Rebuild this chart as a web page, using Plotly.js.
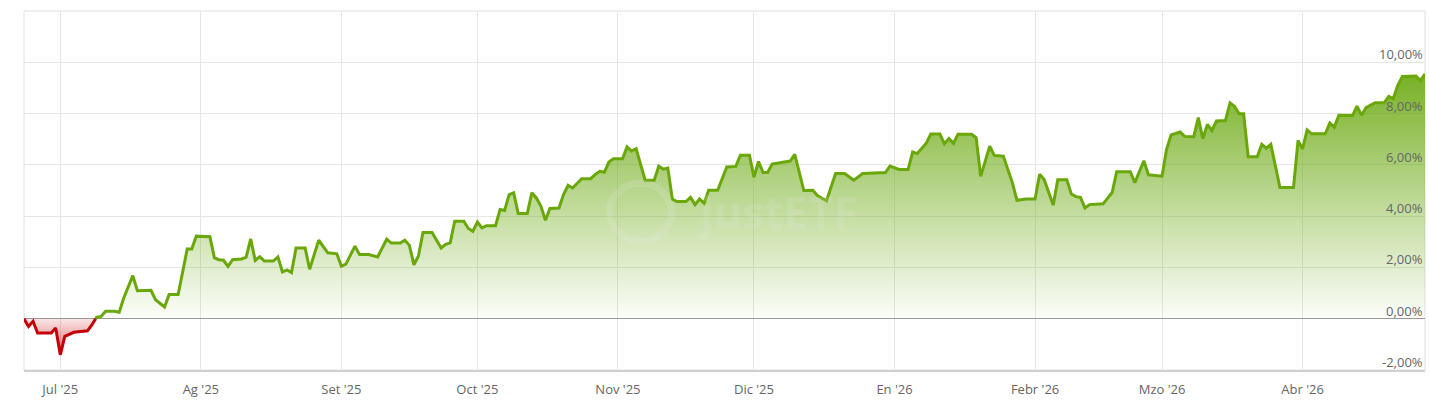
<!DOCTYPE html>
<html>
<head>
<meta charset="utf-8">
<script src="https://cdn.plot.ly/plotly-3.0.1.min.js"></script>
<style>
  html, body { margin: 0; padding: 0; background: #ffffff; }
  #chart { width: 1429px; height: 406px; }
</style>
</head>
<body>
<div id="chart"></div>
<script>
// Performance (%) (vertices of the line)
const dates = [
  "2025-06-23","2025-06-24","2025-06-25","2025-06-26","2025-06-29","2025-06-30",
  "2025-07-01","2025-07-02","2025-07-04","2025-07-06","2025-07-07","2025-07-08",
  "2025-07-09","2025-07-10","2025-07-11","2025-07-13","2025-07-14","2025-07-15",
  "2025-07-17","2025-07-18","2025-07-20","2025-07-21","2025-07-22","2025-07-24",
  "2025-07-25","2025-07-27","2025-07-29","2025-07-30","2025-07-31","2025-08-03",
  "2025-08-04","2025-08-05","2025-08-06","2025-08-07","2025-08-08","2025-08-10",
  "2025-08-11","2025-08-12","2025-08-13","2025-08-14","2025-08-15","2025-08-17",
  "2025-08-18","2025-08-19","2025-08-20","2025-08-21","2025-08-22","2025-08-24",
  "2025-08-25","2025-08-27","2025-08-29","2025-08-31","2025-09-01","2025-09-02",
  "2025-09-04","2025-09-05","2025-09-07","2025-09-09","2025-09-11","2025-09-12",
  "2025-09-14","2025-09-15","2025-09-16","2025-09-17","2025-09-18","2025-09-19",
  "2025-09-21","2025-09-23","2025-09-24","2025-09-25","2025-09-26","2025-09-28",
  "2025-09-29","2025-09-30","2025-10-01","2025-10-02","2025-10-03","2025-10-05",
  "2025-10-06","2025-10-07","2025-10-08","2025-10-09","2025-10-10","2025-10-12",
  "2025-10-13","2025-10-14","2025-10-15","2025-10-16","2025-10-17","2025-10-19",
  "2025-10-20","2025-10-21","2025-10-22","2025-10-24","2025-10-26","2025-10-27",
  "2025-10-28","2025-10-29","2025-10-30","2025-10-31","2025-11-02","2025-11-03",
  "2025-11-04","2025-11-05","2025-11-07","2025-11-09","2025-11-10","2025-11-11",
  "2025-11-12","2025-11-13","2025-11-14","2025-11-16","2025-11-17","2025-11-18",
  "2025-11-19","2025-11-20","2025-11-21","2025-11-23","2025-11-25","2025-11-27",
  "2025-11-28","2025-11-30","2025-12-01","2025-12-02","2025-12-03","2025-12-04",
  "2025-12-05","2025-12-07","2025-12-09","2025-12-10","2025-12-12","2025-12-14",
  "2025-12-15","2025-12-17","2025-12-19","2025-12-21","2025-12-23","2025-12-25",
  "2025-12-30","2025-12-31","2026-01-02","2026-01-04","2026-01-05","2026-01-06",
  "2026-01-07","2026-01-08","2026-01-09","2026-01-11","2026-01-12","2026-01-13",
  "2026-01-14","2026-01-15","2026-01-18","2026-01-19","2026-01-20","2026-01-22",
  "2026-01-23","2026-01-25","2026-01-27","2026-01-28","2026-01-30","2026-02-01",
  "2026-02-02","2026-02-03","2026-02-05","2026-02-06","2026-02-08","2026-02-09",
  "2026-02-10","2026-02-11","2026-02-12","2026-02-13","2026-02-16","2026-02-18",
  "2026-02-19","2026-02-22","2026-02-23","2026-02-25","2026-02-26","2026-03-01",
  "2026-03-02","2026-03-03","2026-03-05","2026-03-06","2026-03-08","2026-03-09",
  "2026-03-10","2026-03-11","2026-03-12","2026-03-13","2026-03-15","2026-03-16",
  "2026-03-17","2026-03-18","2026-03-19","2026-03-20","2026-03-22","2026-03-23",
  "2026-03-24","2026-03-25","2026-03-27","2026-03-30","2026-03-31","2026-04-01",
  "2026-04-02","2026-04-03","2026-04-06","2026-04-07","2026-04-08","2026-04-09",
  "2026-04-12","2026-04-13","2026-04-14","2026-04-15","2026-04-17","2026-04-19",
  "2026-04-20","2026-04-21","2026-04-22","2026-04-23","2026-04-26","2026-04-27",
  "2026-04-28"
];
const values = [
  0.00,-0.30,-0.10,-0.56,-0.56,-0.36,
  -1.41,-0.69,-0.53,-0.49,-0.47,-0.23,
  0.05,0.09,0.29,0.29,0.25,0.81,
  1.68,1.09,1.09,1.11,0.74,0.46,
  0.94,0.94,2.72,2.72,3.22,3.20,
  2.37,2.30,2.28,2.04,2.30,2.33,
  2.40,3.11,2.27,2.42,2.25,2.25,
  2.41,1.82,1.90,1.80,2.76,2.76,
  1.93,3.06,2.57,2.53,2.05,2.13,
  2.83,2.50,2.50,2.41,3.10,2.95,
  2.95,3.06,2.86,2.10,2.45,3.36,
  3.36,2.76,2.90,2.96,3.80,3.80,
  3.52,3.41,3.77,3.54,3.63,3.63,
  4.26,4.22,4.84,4.91,4.10,4.10,
  4.91,4.71,4.39,3.84,4.30,4.32,
  4.84,5.20,5.10,5.46,5.46,5.63,
  5.75,5.71,6.11,6.24,6.24,6.70,
  6.54,6.63,5.40,5.40,5.95,5.83,
  5.87,4.66,4.57,4.57,4.73,4.45,
  4.67,4.50,5.01,5.01,5.92,5.94,
  6.37,6.37,5.52,6.13,5.70,5.70,
  6.03,6.08,6.15,6.41,5.00,5.01,
  4.80,4.60,5.66,5.66,5.40,5.66,
  5.70,5.95,5.82,5.82,6.50,6.44,
  6.66,6.84,7.20,7.20,6.82,7.03,
  6.84,7.19,7.19,7.06,5.55,6.73,
  6.37,6.34,5.30,4.62,4.67,4.67,
  5.63,5.43,4.43,5.42,5.42,4.86,
  4.76,4.73,4.32,4.45,4.48,4.92,
  5.73,5.73,5.31,6.16,5.61,5.56,
  6.60,7.17,7.28,7.11,7.10,7.84,
  7.02,7.58,7.34,7.71,7.73,8.42,
  8.28,7.99,7.99,6.32,6.32,6.80,
  6.65,6.80,5.12,5.12,6.95,6.62,
  7.36,7.21,7.21,7.63,7.47,7.93,
  7.92,8.29,7.94,8.23,8.42,8.42,
  8.67,8.58,9.10,9.45,9.46,9.29,
  9.55
];

const monthTicks = ["2025-07-01","2025-08-01","2025-09-01","2025-10-01","2025-11-01","2025-12-01",
                    "2026-01-01","2026-02-01","2026-03-01","2026-04-01"];
const monthLabels = ["Jul '25","Ag '25","Set '25","Oct '25","Nov '25","Dic '25",
                     "En '26","Febr '26","Mzo '26","Abr '26"];
const yTicks = [-2, 0, 2, 4, 6, 8, 10];
const yLabels = ["-2,00%","0,00%","2,00%","4,00%","6,00%","8,00%","10,00%"];

// split the series at the zero threshold (negative part red, positive part green)
function toMs(s) { return new Date(s.replace(' ', 'T') + (s.length === 10 ? 'T00:00:00Z' : 'Z')).getTime(); }
function fromMs(ms) { return new Date(ms).toISOString().replace('T', ' ').replace('Z', ''); }
const negX = [], negY = [], posX = [], posY = [];
for (let i = 0; i < values.length; i++) {
  const v = values[i];
  if (i > 0) {
    const p = values[i - 1];
    const pNeg = p < 0 || (i - 1 === 0 && p <= 0 && v < 0);
    const cNeg = v < 0;
    if (pNeg !== cNeg) {
      const t0 = toMs(dates[i - 1]), t1 = toMs(dates[i]);
      const f = (0 - p) / (v - p);
      const cx = fromMs(t0 + f * (t1 - t0));
      negX.push(cx); negY.push(0);
      posX.push(cx); posY.push(0);
      if (cNeg) { posX.push(null); posY.push(null); }
      else { negX.push(null); negY.push(null); }
    }
  }
  const isNeg = v < 0 || (i === 0 && v <= 0 && values[1] < 0);
  if (isNeg) { negX.push(dates[i]); negY.push(v); }
  else { posX.push(dates[i]); posY.push(v); }
}

const traces = [
  {
    x: posX, y: posY, type: 'scatter', mode: 'lines',
    line: { color: '#6aa80a', width: 3 },
    fill: 'tozeroy',
    fillgradient: {
      type: 'vertical', start: 0, stop: 9.6,
      colorscale: [[0, 'rgba(112,172,24,0.02)'], [0.5, 'rgba(112,172,24,0.48)'], [1, 'rgba(108,170,20,0.93)']]
    },
    hoverinfo: 'skip', showlegend: false
  },
  {
    x: negX, y: negY, type: 'scatter', mode: 'lines',
    line: { color: '#c4000b', width: 3 },
    fill: 'tozeroy',
    fillgradient: {
      type: 'vertical', start: -1.45, stop: 0,
      colorscale: [[0, 'rgba(200,0,0,0.6)'], [1, 'rgba(200,0,0,0.1)']]
    },
    hoverinfo: 'skip', showlegend: false
  }
];

// y-axis labels drawn inside the plot, right-aligned, just above each gridline
const yLabelAnnotations = yTicks.map((v, i) => ({
  xref: 'paper', yref: 'y', x: 1, y: v, xanchor: 'right', yanchor: 'middle',
  yshift: 8, showarrow: false, text: yLabels[i],
  font: { family: '"Open Sans", sans-serif', size: 13, color: '#666666' }
}));

const layout = {
  width: 1429, height: 406,
  margin: { l: 24, r: 4, t: 11, b: 36 },
  paper_bgcolor: '#ffffff', plot_bgcolor: '#ffffff',
  font: { family: '"Open Sans", sans-serif', size: 13, color: '#666666' },
  showlegend: false,
  xaxis: {
    type: 'date',
    range: ['2025-06-23', '2026-04-28'],
    tickvals: monthTicks, ticktext: monthLabels,
    showgrid: true, gridcolor: '#e6e6e6', gridwidth: 1,
    showline: true, linecolor: '#cfcfcf', linewidth: 2,
    ticks: '', ticklabelstandoff: 6,
    tickfont: { size: 13, color: '#666666' },
    zeroline: false, fixedrange: true
  },
  yaxis: {
    range: [-2, 12],
    side: 'right',
    tickvals: yTicks,
    showticklabels: false,
    showgrid: true, gridcolor: '#e6e6e6', gridwidth: 1,
    zeroline: true, zerolinecolor: '#9a9a9a', zerolinewidth: 1,
    showline: false, ticks: '',
    fixedrange: true
  },
  shapes: [
    { type: 'rect', xref: 'paper', yref: 'paper', x0: 0, x1: 1, y0: 0, y1: 1,
      line: { color: '#e0e0e0', width: 1 }, fillcolor: 'rgba(0,0,0,0)', layer: 'below' },
    { type: 'circle', xref: 'paper', yref: 'paper', x0: 0.418, x1: 0.462, y0: 0.36, y1: 0.52,
      line: { color: 'rgba(235,235,235,0.16)', width: 7 }, layer: 'above' }
  ],
  annotations: [
    { xref: 'paper', yref: 'paper', x: 0.538, y: 0.44, text: '<b>justETF</b>', showarrow: false,
      font: { family: '"Open Sans", sans-serif', size: 44, color: 'rgba(235,235,235,0.16)' } }
  ].concat(yLabelAnnotations)
};

Plotly.newPlot('chart', traces, layout, { displayModeBar: false, staticPlot: true });
</script>
</body>
</html>
